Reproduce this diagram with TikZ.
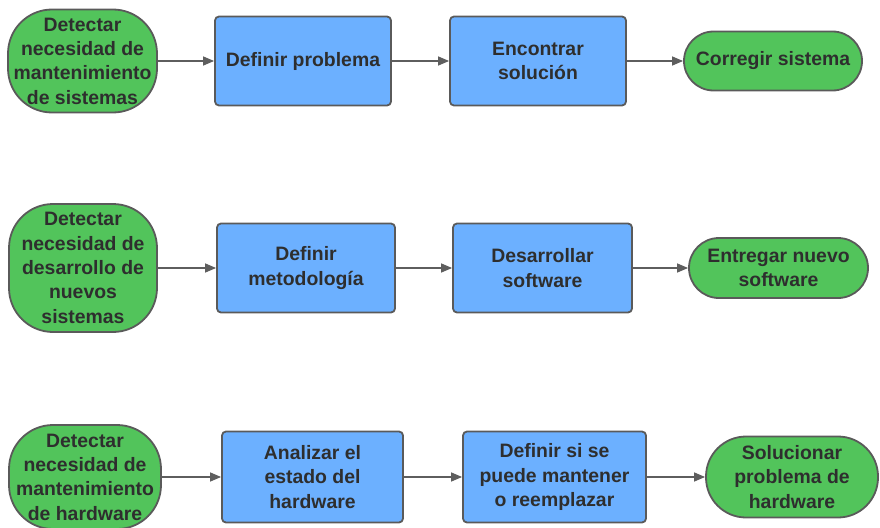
\documentclass[tikz,border=0pt]{standalone}
\usepackage{fontspec}
\setmainfont{Liberation Sans}
\usetikzlibrary{arrows.meta}
\definecolor{grn}{HTML}{52C45B}
\definecolor{blu}{HTML}{6CB0FF}
\definecolor{brd}{HTML}{5A5A5A}
\definecolor{txt}{HTML}{2E2E2E}
\definecolor{arr}{HTML}{5E5E5E}
\begin{document}
\begin{tikzpicture}[x=1pt,y=-1pt,
  base/.style={draw=brd, line width=1.8pt, text=txt, align=center, inner sep=0pt,
    font=\fontsize{19.4}{24.3}\selectfont\bfseries},
  startnode/.style={base, fill=grn, rounded corners=44pt},
  endnode/.style={base, fill=grn},
  procbox/.style={base, fill=blu, rounded corners=4pt},
  conn/.style={draw=arr, line width=1.3pt, -{Triangle[length=11pt,width=9pt]}}]
\useasboundingbox (0,0) rectangle (880,527);
% Row 1
\node[startnode, minimum width=149pt, minimum height=103pt] (s1) at (82.5,61) {Detectar\\necesidad de\\mantenimiento\\de sistemas};
\node[procbox, minimum width=176pt, minimum height=89pt] (b1) at (303,61) {Definir problema};
\node[procbox, minimum width=176pt, minimum height=89pt] (b2) at (538,61) {Encontrar\\solución};
\node[endnode, rounded corners=29.5pt, minimum width=178pt, minimum height=59pt] (e1) at (773,61) {Corregir sistema};
% Row 2
\node[startnode, minimum width=148pt, minimum height=128pt] (s2) at (83,268) {Detectar\\necesidad de\\desarrollo de\\nuevos\\sistemas};
\node[procbox, minimum width=178pt, minimum height=89pt] (b3) at (306,268) {Definir\\metodología};
\node[procbox, minimum width=179pt, minimum height=89pt] (b4) at (542.5,268) {Desarrollar\\software};
\node[endnode, rounded corners=30pt, minimum width=179pt, minimum height=60pt] (e2) at (778.5,268) {Entregar nuevo\\software};
% Row 3
\node[startnode, minimum width=152pt, minimum height=104pt] (s3) at (85,477) {Detectar\\necesidad de\\mantenimiento\\de hardware};
\node[procbox, minimum width=181pt, minimum height=91pt] (b5) at (312.5,477) {Analizar el\\estado del\\hardware};
\node[procbox, minimum width=183pt, minimum height=91pt] (b6) at (554.5,477) {Definir si se\\puede mantener\\o reemplazar};
\node[endnode, rounded corners=40pt, minimum width=172pt, minimum height=81pt] (e3) at (792,477) {Solucionar\\problema de\\hardware};
% Connectors
\draw[conn] (s1) -- (b1);
\draw[conn] (b1) -- (b2);
\draw[conn] (b2) -- (e1);
\draw[conn] (s2) -- (b3);
\draw[conn] (b3) -- (b4);
\draw[conn] (b4) -- (e2);
\draw[conn] (s3) -- (b5);
\draw[conn] (b5) -- (b6);
\draw[conn] (b6) -- (e3);
\end{tikzpicture}
\end{document}
